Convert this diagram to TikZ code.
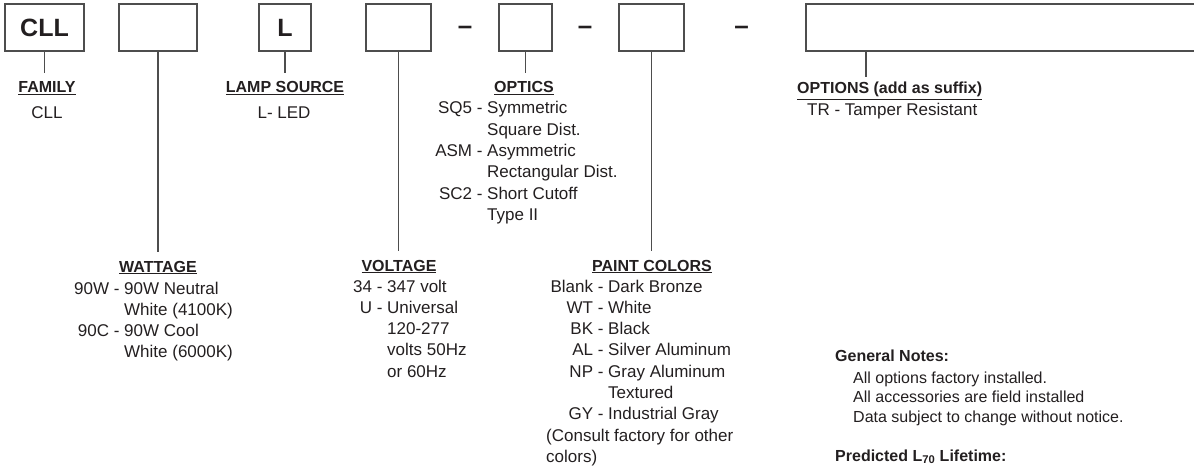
\documentclass[tikz,border=0pt]{standalone}
\usepackage{fontspec}
\setmainfont{Liberation Sans}
\definecolor{ink}{HTML}{231F20}
\definecolor{rule}{HTML}{4D4D4D}
\newcommand\spec[3]{\makebox[#1][r]{#2 -\ }#3}
\newcommand\more[2]{\makebox[#1]{}#2}
\newcommand\rows[1]{\begin{tabular}[t]{@{}l@{}}#1\end{tabular}}
\tikzset{
  field/.style={draw=rule, line width=1.3pt, minimum height=47pt, inner sep=0pt, font=\fontsize{25}{28}\selectfont\bfseries, text=ink},
  head/.style={font=\fontsize{16}{19}\selectfont\bfseries, inner sep=0pt, outer ysep=9pt, anchor=base, text=ink},
  list/.style={font=\fontsize{17}{21.3}\selectfont, inner sep=0pt, anchor=base west, text=ink},
  note/.style={font=\fontsize{16}{19.7}\selectfont, inner sep=0pt, anchor=base west, text=ink},
  sep/.style={font=\fontsize{26}{26}\selectfont\bfseries, inner sep=0pt, anchor=base, text=ink},
  lead/.style={draw=rule, line width=1.3pt}
}
\begin{document}
\begin{tikzpicture}[x=1pt,y=-1pt]
\useasboundingbox (0,0) rectangle (1194,468);
\node[field, minimum width=79pt] (fam) at (44.5,27.5) {CLL};
\node[field, minimum width=78pt] (watt) at (158,27.5) {};
\node[field, minimum width=52pt] (lamp) at (285,27.5) {L};
\node[field, minimum width=65pt] (volt) at (398.5,27.5) {};
\node[sep] (d1) at (465,35) {\textendash};
\node[field, minimum width=53pt] (optic) at (525.5,27.5) {};
\node[sep] (d2) at (585,35) {\textendash};
\node[field, minimum width=65pt] (paint) at (651.5,27.5) {};
\node[sep] (d3) at (741.5,35) {\textendash};
\node[field, minimum width=394pt] (extra) at (1003,27.5) {};

\node[head] (famhead) at (47,93) {\underline{FAMILY}};
\node[head] (lamphead) at (285,93) {\underline{LAMP SOURCE}};
\node[head] (optichead) at (524,93) {\underline{OPTICS}};
\node[head, anchor=base west] (extrahead) at (797,94) {\underline{OPTIONS (add as suffix)}};
\node[head] (watthead) at (158,272) {\underline{WATTAGE}};
\node[head] (volthead) at (399,271) {\underline{VOLTAGE}};
\node[head] (painthead) at (652,271) {\underline{PAINT COLORS}};

\node[list, anchor=base] (famval) at (47,119) {CLL};
\node[list, anchor=base] (lampval) at (284,119) {L- LED};
\node[list] (opticlist) at (432,114) {\rows{\spec{55pt}{SQ5}{Symmetric}\\ \more{55pt}{Square Dist.}\\ \spec{55pt}{ASM}{Asymmetric}\\ \more{55pt}{Rectangular Dist.}\\ \spec{55pt}{SC2}{Short Cutoff}\\ \more{55pt}{Type II}}};
\node[list] (extralist) at (807,116) {TR - Tamper Resistant};
\node[list] (wattlist) at (64,294) {\rows{\spec{60pt}{90W}{90W Neutral}\\ \more{60pt}{White (4100K)}\\ \spec{60pt}{90C}{90W Cool}\\ \more{60pt}{White (6000K)}}};
\node[list] (voltlist) at (348,292) {\rows{\spec{39pt}{34}{347 volt}\\ \spec{39pt}{U}{Universal}\\ \more{39pt}{120-277}\\ \more{39pt}{volts 50Hz}\\ \more{39pt}{or 60Hz}}};
\node[list] (paintlist) at (546,292) {\rows{\spec{62pt}{Blank}{Dark Bronze}\\ \spec{62pt}{WT}{White}\\ \spec{62pt}{BK}{Black}\\ \spec{62pt}{AL}{Silver Aluminum}\\ \spec{62pt}{NP}{Gray Aluminum}\\ \more{62pt}{Textured}\\ \spec{62pt}{GY}{Industrial Gray}\\ (Consult factory for other\\ colors)}};

\node[note, font=\fontsize{16}{19.7}\selectfont\bfseries] (noteshead) at (835,361) {General Notes:};
\node[note] (noteslist) at (853,383) {\rows{All options factory installed.\\ All accessories are field installed\\ Data subject to change without notice.}};
\node[note, font=\fontsize{16}{19.7}\selectfont\bfseries] (lifehead) at (835,461) {Predicted L\textsubscript{70} Lifetime:};

\draw[lead] (fam.south) -- (fam.south |- famhead.north);
\draw[lead] (watt.south) -- (watt.south |- watthead.north);
\draw[lead] (lamp.south) -- (lamp.south |- lamphead.north);
\draw[lead] (volt.south) -- (volt.south |- volthead.north);
\draw[lead] (optic.south) -- (optic.south |- optichead.north);
\draw[lead] (paint.south) -- (paint.south |- painthead.north);
\coordinate (extraend) at (866,77);
\draw[lead] (extra.south -| extraend) -- (extraend);
\end{tikzpicture}
\end{document}
